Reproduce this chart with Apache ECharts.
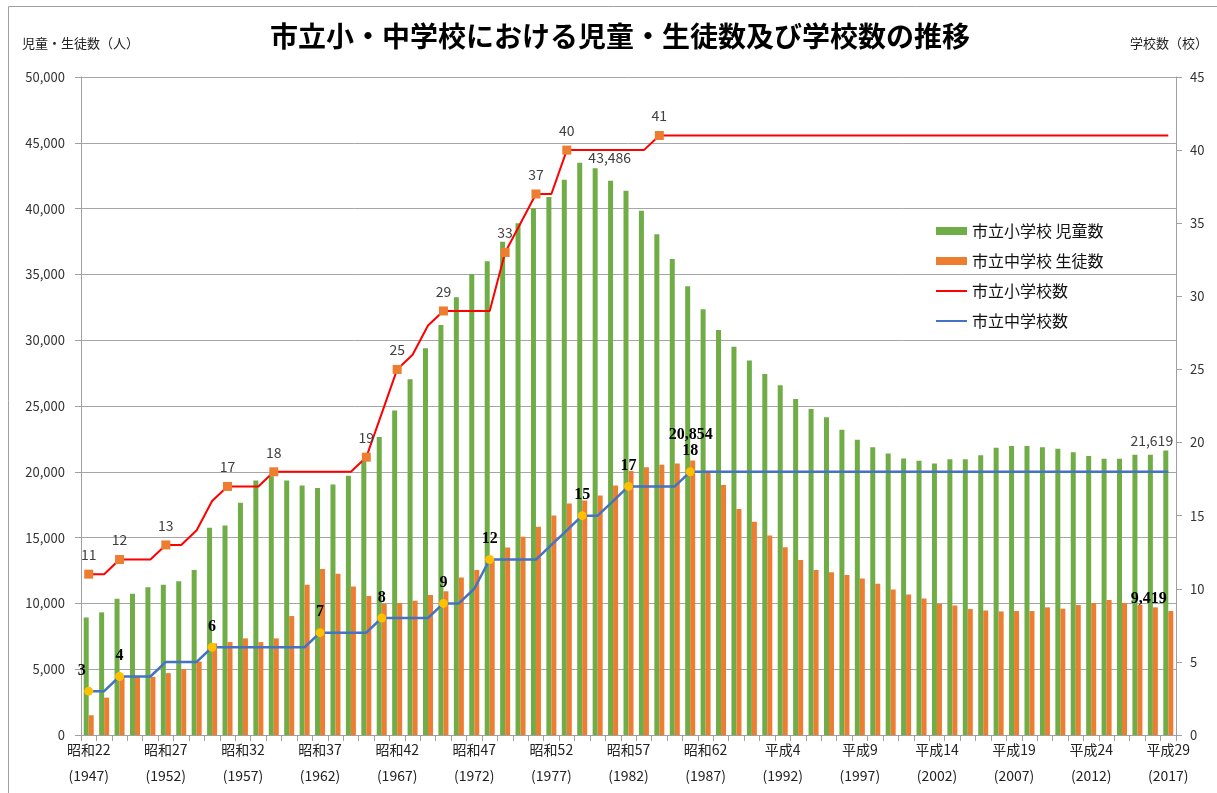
<!DOCTYPE html>
<html><head><meta charset="utf-8">
<script src="https://cdn.jsdelivr.net/npm/echarts@6/dist/echarts.min.js"></script>
<style>html,body{margin:0;padding:0;background:#fff}#c{width:1217px;height:793px}</style>
</head><body><div id="c"></div>
<script>
// ---- data ----
const categories = [
 '昭和22\n(1947)','昭和23\n(1948)','昭和24\n(1949)','昭和25\n(1950)','昭和26\n(1951)',
 '昭和27\n(1952)','昭和28\n(1953)','昭和29\n(1954)','昭和30\n(1955)','昭和31\n(1956)',
 '昭和32\n(1957)','昭和33\n(1958)','昭和34\n(1959)','昭和35\n(1960)','昭和36\n(1961)',
 '昭和37\n(1962)','昭和38\n(1963)','昭和39\n(1964)','昭和40\n(1965)','昭和41\n(1966)',
 '昭和42\n(1967)','昭和43\n(1968)','昭和44\n(1969)','昭和45\n(1970)','昭和46\n(1971)',
 '昭和47\n(1972)','昭和48\n(1973)','昭和49\n(1974)','昭和50\n(1975)','昭和51\n(1976)',
 '昭和52\n(1977)','昭和53\n(1978)','昭和54\n(1979)','昭和55\n(1980)','昭和56\n(1981)',
 '昭和57\n(1982)','昭和58\n(1983)','昭和59\n(1984)','昭和60\n(1985)','昭和61\n(1986)',
 '昭和62\n(1987)','昭和63\n(1988)','平成元\n(1989)','平成2\n(1990)','平成3\n(1991)',
 '平成4\n(1992)','平成5\n(1993)','平成6\n(1994)','平成7\n(1995)','平成8\n(1996)',
 '平成9\n(1997)','平成10\n(1998)','平成11\n(1999)','平成12\n(2000)','平成13\n(2001)',
 '平成14\n(2002)','平成15\n(2003)','平成16\n(2004)','平成17\n(2005)','平成18\n(2006)',
 '平成19\n(2007)','平成20\n(2008)','平成21\n(2009)','平成22\n(2010)','平成23\n(2011)',
 '平成24\n(2012)','平成25\n(2013)','平成26\n(2014)','平成27\n(2015)','平成28\n(2016)',
 '平成29\n(2017)'
];
// 市立小学校 児童数
const elementaryStudents = [
 8930, 9320, 10360, 10740, 11220, 11420, 11680, 12540, 15740, 15910,
 17640, 19340, 19670, 19340, 18960, 18760, 19040, 19700, 20860, 22640,
 24650, 27030, 29390, 31160, 33260, 35030, 36000, 37490, 38880, 40020,
 40880, 42200, 43486, 43060, 42120, 41360, 39840, 38050, 36170, 34100,
 32360, 30780, 29500, 28460, 27440, 26570, 25530, 24770, 24140, 23200,
 22440, 21860, 21390, 21020, 20840, 20630, 20950, 20960, 21250, 21820,
 21960, 21960, 21860, 21760, 21480, 21200, 21000, 21000, 21300, 21300,
 21619
];
// 市立中学校 生徒数
const juniorStudents = [
 1500, 2840, 4400, 4420, 4420, 4700, 5000, 5580, 6950, 7060,
 7340, 7060, 7340, 9040, 11420, 12610, 12260, 11290, 10560, 9980,
 10030, 10200, 10640, 10920, 11960, 12540, 13350, 14240, 15070, 15830,
 16670, 17600, 17810, 18190, 18950, 20060, 20340, 20540, 20640, 20854,
 19930, 19000, 17170, 16200, 15160, 14270, 13300, 12540, 12360, 12150,
 11890, 11490, 11050, 10680, 10370, 9980, 9840, 9570, 9460, 9390,
 9420, 9420, 9700, 9600, 9880, 10030, 10260, 10030, 9880, 9700,
 9419
];
// 市立小学校数
const elementarySchools = [
 11, 11, 12, 12, 12, 13, 13, 14, 16, 17,
 17, 17, 18, 18, 18, 18, 18, 18, 19, 22,
 25, 26, 28, 29, 29, 29, 29, 33, 35, 37,
 37, 40, 40, 40, 40, 40, 40, 41, 41, 41,
 41, 41, 41, 41, 41, 41, 41, 41, 41, 41,
 41, 41, 41, 41, 41, 41, 41, 41, 41, 41,
 41, 41, 41, 41, 41, 41, 41, 41, 41, 41,
 41
];
// 市立中学校数
const juniorSchools = [
 3, 3, 4, 4, 4, 5, 5, 5, 6, 6,
 6, 6, 6, 6, 6, 7, 7, 7, 7, 8,
 8, 8, 8, 9, 9, 10, 12, 12, 12, 12,
 13, 14, 15, 15, 16, 17, 17, 17, 17, 18,
 18, 18, 18, 18, 18, 18, 18, 18, 18, 18,
 18, 18, 18, 18, 18, 18, 18, 18, 18, 18,
 18, 18, 18, 18, 18, 18, 18, 18, 18, 18,
 18
];
// points carrying markers + labels
const elementaryMarked = [0, 2, 5, 9, 12, 18, 20, 23, 27, 29, 31, 37];
const juniorMarked = [0, 2, 8, 15, 19, 23, 26, 32, 35, 39];
const elementaryStudentLabeled = [32, 70];
const juniorStudentLabeled = [39, 70];
const leftAxisRange = {min: 0, max: 50000, interval: 5000};
const rightAxisRange = {min: 0, max: 45, interval: 5};
const seriesNames = ['市立小学校 児童数', '市立中学校 生徒数', '市立小学校数', '市立中学校数'];
const titleText = '市立小・中学校における児童・生徒数及び学校数の推移';
const leftAxisName = '児童・生徒数（人）';
const rightAxisName = '学校数（校）';

// ---- styling ----
const JP = "'Noto Sans CJK JP', 'Noto Sans', sans-serif";
const SERIF = "'Liberation Serif', 'DejaVu Serif', serif";
const fmt = v => v.toLocaleString('en-US');

const labelOffsetsBar = {
  g32: [30, 7], g70: [-14, 2], o39: [-2, -13], o70: [-22, 1]
};

function barData(values, labeled, key, labelStyle) {
  return values.map((v, i) => {
    if (labeled.indexOf(i) < 0) return v;
    return {value: v, label: Object.assign({show: true, position: 'top',
      offset: labelOffsetsBar[key + i] || [0, 0], formatter: p => fmt(p.value)}, labelStyle)};
  });
}
function lineData(values, marked, symbol, labelStyle, offsets) {
  return values.map((v, i) => {
    if (marked.indexOf(i) < 0) return {value: v, symbol: 'none'};
    return {value: v, symbol: symbol, symbolSize: 9,
      label: Object.assign({show: true, position: 'top', distance: 8,
        offset: (offsets && offsets[i]) || [0, 0]}, labelStyle)};
  });
}

const chart = echarts.init(document.getElementById('c'), null, {renderer: 'canvas'});
chart.setOption({
  animation: false,
  backgroundColor: '#fff',
  textStyle: {fontFamily: JP},
  title: {
    text: titleText, left: 615, top: 17, textAlign: 'center',
    textStyle: {fontSize: 28, fontWeight: 'bold', color: '#000', fontFamily: JP}
  },
  graphic: [
    {type: 'rect', silent: true, shape: {x: 8.5, y: 6.5, width: 1240, height: 820},
     style: {fill: 'none', stroke: '#a0a0a0', lineWidth: 1}},
    {type: 'text', left: 22, top: 37, style: {text: leftAxisName, fontSize: 13, fill: '#222', fontFamily: JP}},
    {type: 'text', left: 1130, top: 37, style: {text: rightAxisName, fontSize: 13, fill: '#222', fontFamily: JP}}
  ],
  legend: {
    orient: 'vertical', left: 935, top: 222, padding: 0,
    itemWidth: 31, itemHeight: 8, itemGap: 12,
    textStyle: {fontSize: 16, color: '#111', fontFamily: JP, lineHeight: 18},
    data: [
      {name: seriesNames[0], icon: 'rect'},
      {name: seriesNames[1], icon: 'rect'},
      {name: seriesNames[2], itemStyle: {opacity: 0}},
      {name: seriesNames[3], itemStyle: {opacity: 0}}
    ]
  },
  grid: {left: 81, right: 41, top: 77, bottom: 58, containLabel: false},
  xAxis: {
    type: 'category', data: categories, boundaryGap: true,
    axisLine: {lineStyle: {color: '#a0a0a0', width: 1}},
    axisTick: {show: true, interval: 0, length: 6, lineStyle: {color: '#a0a0a0'}},
    axisLabel: {interval: 4, margin: 2, fontSize: 14, color: '#222', lineHeight: 26, fontFamily: JP},
    splitLine: {show: false}
  },
  yAxis: [
    {type: 'value', min: leftAxisRange.min, max: leftAxisRange.max, interval: leftAxisRange.interval,
     axisLine: {show: true, lineStyle: {color: '#a0a0a0'}},
     axisTick: {show: true, length: 6, lineStyle: {color: '#a0a0a0'}},
     axisLabel: {margin: 16, fontSize: 13, color: '#333', formatter: v => fmt(v), fontFamily: JP},
     splitLine: {show: true, lineStyle: {color: '#a6a6a6', width: 1}}},
    {type: 'value', min: rightAxisRange.min, max: rightAxisRange.max, interval: rightAxisRange.interval,
     position: 'right',
     axisLine: {show: true, lineStyle: {color: '#a0a0a0'}},
     axisTick: {show: true, length: 6, lineStyle: {color: '#a0a0a0'}},
     axisLabel: {margin: 14, fontSize: 13, color: '#333', fontFamily: JP},
     splitLine: {show: false}}
  ],
  series: [
    {name: seriesNames[0], type: 'bar', yAxisIndex: 0, barWidth: 5, barGap: '0%',
     itemStyle: {color: '#70ad47'},
     data: barData(elementaryStudents, elementaryStudentLabeled, 'g',
       {fontSize: 14, color: '#404040', fontFamily: JP})},
    {name: seriesNames[1], type: 'bar', yAxisIndex: 0, barWidth: 5, barGap: '0%',
     itemStyle: {color: '#ed7d31'},
     data: barData(juniorStudents, juniorStudentLabeled, 'o',
       {fontSize: 16, fontWeight: 'bold', color: '#000', fontFamily: SERIF})},
    {name: seriesNames[2], type: 'line', yAxisIndex: 1, symbol: 'none', showSymbol: true,
     lineStyle: {color: '#ff0000', width: 2}, itemStyle: {color: '#ed7d31'}, color: '#ff0000',
     z: 5,
     data: lineData(elementarySchools, elementaryMarked, 'rect',
       {fontSize: 14, color: '#404040', fontFamily: JP}),
     emphasis: {disabled: true}},
    {name: seriesNames[3], type: 'line', yAxisIndex: 1, symbol: 'none', showSymbol: true,
     lineStyle: {color: '#4472c4', width: 2.5}, itemStyle: {color: '#ffc000'}, color: '#4472c4',
     z: 6,
     data: lineData(juniorSchools, juniorMarked, 'circle',
       {fontSize: 16, fontWeight: 'bold', color: '#000', fontFamily: SERIF}, {0: [-7, 0]}),
     emphasis: {disabled: true}}
  ]
});
</script></body></html>
